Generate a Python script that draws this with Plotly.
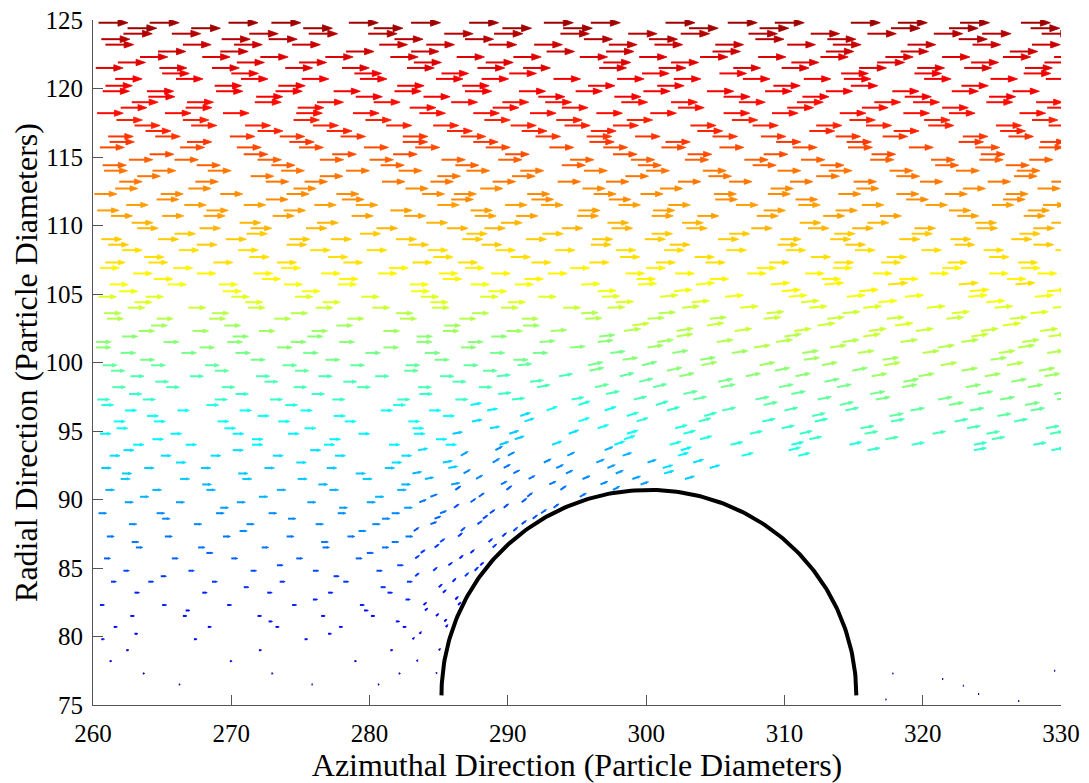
import numpy as np
import plotly.graph_objects as go

# ---------------- data ----------------
# particle rows (layer A): radial position, normalised speed, azimuthal positions
row_y = [124.8, 124.0, 123.2, 122.3, 121.5, 120.7, 119.8, 119.0, 118.2, 117.3,
         116.5, 115.7, 114.8, 114.0, 113.2, 112.3, 111.5, 110.7, 109.8, 109.0,
         108.2, 107.3, 106.5, 105.7, 104.8, 104.0, 103.2, 102.3, 101.5, 100.7,
         99.8, 99.0, 98.2, 97.3, 96.5, 95.7, 94.8, 94.0, 93.2, 92.3,
         91.5, 90.7, 89.8, 89.0, 88.2, 87.3, 86.5, 85.7, 84.8, 84.0,
         83.2, 82.3, 81.5, 80.7, 79.8, 79.0, 78.2, 77.3, 76.5]

row_speed = [0.97, 0.95, 0.93, 0.915, 0.90, 0.89, 0.88, 0.87, 0.86, 0.845,
             0.825, 0.805, 0.785, 0.77, 0.755, 0.74, 0.725, 0.71, 0.695, 0.68,
             0.665, 0.65, 0.635, 0.62, 0.595, 0.575, 0.55, 0.53, 0.51, 0.495,
             0.475, 0.455, 0.44, 0.42, 0.395, 0.38, 0.37, 0.36, 0.345, 0.33,
             0.315, 0.30, 0.285, 0.27, 0.26, 0.245, 0.23, 0.215, 0.195, 0.18,
             0.165, 0.15, 0.135, 0.12, 0.105, 0.09, 0.075, 0.06, 0.05]

row_x = [
    "260.4 264.1 269.8 272.9 278.5 283.0 287.2 292.6 296.0 301.4 305.9 309.3 314.8 318.2 322.7 327.1",
    "262.2 265.7 271.3 275.6 279.9 285.4 289.0 293.8 298.7 302.5 307.4 311.9 316.0 320.8 324.3 328.6",
    "260.9 266.5 270.2 274.4 280.7 284.1 288.6 291.9 297.3 300.6 305.0 310.2 313.5 318.9 323.6 327.9",
    "263.4 267.9 272.1 276.8 281.5 286.3 290.4 295.2 299.5 303.9 308.1 312.6 317.3 321.4 325.8 329.5",
    "260.2 264.8 268.6 273.9 278.0 282.7 287.8 291.1 296.6 300.9 306.3 309.8 315.4 319.6 323.0 327.4",
    "261.6 266.0 270.7 275.1 279.3 284.8 288.1 293.3 297.9 302.0 307.0 311.4 314.3 320.1 324.9 328.9",
    "260.7 263.9 268.9 273.2 277.4 281.8 286.9 290.8 294.9 299.8 304.4 308.6 313.0 317.8 322.1 326.5",
    "262.8 266.8 271.7 276.2 280.3 285.9 289.6 292.7 298.2 301.8 306.7 310.9 316.5 319.3 324.6 328.2",
    "260.3 265.2 269.4 274.7 278.8 283.6 287.5 291.6 296.4 300.3 305.6 309.1 314.0 318.6 321.9 327.0",
    "263.0 267.1 271.0 275.9 281.2 284.6 290.2 294.1 297.6 303.2 307.7 312.3 315.9 320.4 325.3 329.1",
    "261.1 264.5 269.9 273.5 277.9 282.4 286.6 292.0 295.7 299.2 304.8 308.3 313.7 317.1 322.9 326.2",
    "260.5 266.3 270.4 274.9 279.6 283.3 288.4 293.0 296.9 301.1 305.3 310.6 314.6 319.0 323.8 328.4",
    "262.6 265.9 271.9 276.4 280.0 285.2 289.3 294.5 298.9 302.8 307.1 311.2 316.2 320.6 324.1 327.7",
    "260.8 264.3 268.3 273.6 278.3 282.1 287.0 290.9 295.5 300.0 304.1 309.5 313.2 317.6 322.4 326.8",
    "261.9 267.4 272.5 275.3 280.9 284.4 288.9 293.6 297.1 302.3 306.0 310.4 315.0 319.8 324.7 329.3",
    "260.1 264.9 269.2 274.0 277.6 283.8 286.1 291.4 296.2 299.6 304.9 308.8 313.9 318.1 321.6 326.0",
    "262.4 266.6 270.9 276.0 279.0 284.9 289.8 292.4 298.0 301.6 306.5 311.0 315.6 320.2 325.0 328.7",
    "261.3 265.0 268.0 273.0 278.7 282.5 287.6 290.6 295.0 300.4 303.7 308.0 312.8 316.9 322.5 327.3",
    "263.2 267.7 271.4 275.4 280.5 285.6 288.3 293.9 297.5 302.9 307.6 311.7 314.9 319.4 323.9 328.0",
    "260.6 264.7 269.6 274.2 277.2 281.9 286.7 291.3 296.1 299.9 305.2 309.7 313.3 318.3 322.0 326.4",
    "262.1 266.2 270.5 275.7 279.8 284.2 289.1 293.4 297.8 301.3 305.8 310.1 315.1 319.9 324.4 329.6",
    "260.9 264.0 268.7 273.3 278.1 283.1 286.4 291.7 295.9 300.7 304.3 308.9 313.6 317.0 321.8 326.9",
    "262.9 267.5 271.6 276.5 280.6 285.0 288.8 292.9 298.5 302.1 307.3 311.5 316.4 320.5 324.8 328.3",
    "261.2 265.4 269.1 273.8 277.7 282.9 287.3 290.5 295.3 299.4 303.6 309.0 312.9 317.5 322.6 326.7",
    "260.4 263.8 270.0 274.6 279.4 283.7 288.0 292.2 296.8 301.0 305.7 310.3 314.5 318.7 323.3 328.1",
    "262.5 266.9 271.2 276.1 280.2 284.5 289.5 294.0 297.2 302.6 306.8 311.8 315.7 320.3 325.2 329.4",
    "261.0 264.6 268.4 273.1 278.4 282.2 286.5 291.0 295.6 300.1 304.6 308.5 313.1 317.4 321.7 326.3",
    "263.3 267.2 272.0 275.8 281.0 285.3 289.9 293.1 298.4 302.2 306.4 310.7 316.1 319.5 324.2 328.5",
    "260.2 265.1 269.7 274.3 277.8 283.4 287.1 292.3 296.5 300.8 305.1 309.4 314.2 318.4 322.8 327.2",
    "262.0 266.4 270.3 275.2 279.7 284.0 288.7 291.8 297.4 301.9 306.2 311.3 315.3 320.0 325.5 329.0",
    "260.7 264.2 268.1 273.7 278.6 282.6 286.8 290.7 295.8 299.7 304.0 308.2 312.7 317.2 321.3 326.1",
    "262.7 267.0 271.8 276.3 280.4 285.1 289.2 293.7 298.1 302.4 307.2 310.8 316.3 319.7 324.5 328.8",
    "261.4 265.3 269.3 274.5 279.1 283.5 287.9 292.1 296.3 300.5 305.4 309.6 313.8 318.5 323.1 327.6",
    "260.3 263.6 268.8 272.8 277.3 282.0 286.2 290.3 294.6 299.1 303.4 307.9 312.4 316.6 321.1 325.6 329.7",
    "262.3 266.1 270.6 275.0 280.8 284.3 288.5 292.8 297.0 301.5 305.5 310.0 314.4 319.1 323.4 327.8",
    "261.5 264.4 269.0 273.4 278.2 282.8 287.4 291.2 295.1 299.3 303.8 308.4 312.2 317.7 322.3 326.6",
    "260.5 265.6 270.1 274.1 279.2 283.2 286.0 290.1 294.4 298.6 302.7 307.5 311.1 315.8 320.7 324.6 329.2",
    "262.9 266.7 271.5 276.7 281.4 285.5 289.4 293.2 297.7 301.7 306.1 310.5 314.7 319.2 323.7 328.0",
    "261.2 264.9 268.5 273.0 277.5 282.3 286.6 290.0 294.3 298.3 302.3 306.9 311.0",
    "260.6 263.7 267.8 272.4 276.9 281.1 285.7 289.7 293.5 297.2 301.2 304.6",
    "262.0 266.3 270.8 274.8 279.5 284.0 287.7 291.5 295.4 299.0 302.8",
    "260.9 264.3 268.2 273.3 277.1 282.0 286.2 289.9 293.8 297.6",
    "262.3 266.0 270.4 275.5 279.8 283.6 287.3 291.0 294.6",
    "260.4 264.6 268.9 272.7 277.7 281.6 285.1 288.7 292.4",
    "262.6 267.3 271.1 276.1 280.2 284.4 287.8 291.0",
    "261.0 265.2 269.4 274.0 278.4 282.6 286.4 289.6",
    "263.1 267.6 272.2 276.6 280.9 284.7 288.9",
    "260.8 265.7 270.0 274.7 279.0 283.3 286.5",
    "262.2 266.9 271.4 275.9 280.5 284.6 287.6",
    "261.3 264.0 268.6 273.5 278.1 282.7 286.0",
    "263.0 267.9 272.6 277.0 281.3 285.3 287.2",
    "260.5 265.0 269.7 274.4 279.3 283.9 286.4",
    "262.7 266.5 271.9 276.5 280.1 284.8",
    "261.5 268.3 273.2 277.8 282.4 285.5",
    "260.6 267.3 275.3 283.1",
    "262.4 272.0 281.5 285.0",
    "261.2 269.9 278.9 283.4",
    "263.6 272.9 282.1 284.8",
    "266.2 275.8 280.6",
]

# particle rows (layer B, lying between the layer-A rows)
row2_y = [124.4, 123.6, 122.7, 121.9, 121.1, 120.2, 119.4, 118.6, 117.7, 116.9,
          116.1, 115.2, 114.4, 113.6, 112.7, 111.9, 111.1, 110.2, 109.4, 108.6,
          107.7, 106.9, 106.1, 105.2, 104.4, 103.6, 102.7, 101.9, 101.1, 100.2,
          99.4, 98.6, 97.7, 96.9, 96.1, 95.2, 94.4, 93.6, 92.7, 91.9,
          91.1, 90.2, 89.4, 88.6, 87.7, 86.9, 86.1, 85.2, 84.4, 83.6,
          82.7, 81.9, 81.1, 80.2]

row2_speed = [0.96, 0.94, 0.92, 0.907, 0.895, 0.885, 0.875, 0.865, 0.853, 0.835,
              0.815, 0.795, 0.777, 0.762, 0.747, 0.732, 0.717, 0.702, 0.687, 0.672,
              0.657, 0.642, 0.627, 0.607, 0.585, 0.562, 0.54, 0.52, 0.502, 0.485,
              0.465, 0.447, 0.43, 0.407, 0.387, 0.375, 0.365, 0.352, 0.337, 0.322,
              0.307, 0.292, 0.277, 0.265, 0.252, 0.237, 0.222, 0.205, 0.187, 0.172,
              0.157, 0.142, 0.127, 0.112]

row2_x = [
    "262.5 267.1 275.2 280.3 289.6 294.0 303.1 308.2 317.7 321.9 327.8",
    "260.6 269.3 272.7 281.8 286.9 295.5 300.2 307.9 313.1 322.6",
    "264.7 269.2 278.3 283.0 292.8 297.1 304.8 313.0 318.4 326.3",
    "261.8 270.4 274.9 283.2 288.4 296.9 301.8 310.5 316.7 323.5 328.8",
    "265.0 270.0 278.9 285.2 290.1 299.7 305.3 314.1 319.4 327.3",
    "260.9 268.8 273.4 282.0 286.7 295.8 300.8 309.2 314.8 322.8",
    "264.0 271.8 279.0 283.9 292.2 297.7 305.6 311.3 318.7 324.8",
    "262.0 266.7 274.8 282.9 288.9 293.9 302.3 310.2 315.6 321.4 329.0",
    "261.7 266.5 274.5 279.7 288.3 293.5 298.6 306.2 314.7 320.1 327.9",
    "263.8 271.9 276.9 285.6 291.0 296.0 303.7 311.8 317.9 325.6",
    "261.2 266.8 274.2 282.4 287.5 295.9 301.4 309.4 314.5 322.6 328.5",
    "264.1 270.9 277.3 281.7 289.8 297.6 303.0 308.5 316.3 324.2",
    "260.7 267.5 272.9 280.8 286.2 293.9 299.4 307.7 312.6 320.9 326.0",
    "263.2 271.4 276.4 284.9 290.3 298.5 304.5 312.3 318.1 326.6",
    "261.6 266.9 274.5 282.6 288.0 295.4 301.0 309.0 315.2 322.9 328.3",
    "264.6 272.5 278.0 285.9 291.7 297.3 305.0 310.8 318.8 325.8",
    "260.3 268.2 273.8 281.5 287.3 295.1 300.5 308.5 313.7 321.9 327.6",
    "262.8 270.6 276.2 284.1 289.5 297.2 302.6 311.1 316.0 323.8 329.3",
    "265.9 271.1 279.3 287.0 292.5 300.4 306.0 313.6 319.2 327.0",
    "261.1 267.5 274.0 282.8 288.1 296.0 301.7 309.5 314.4 322.3 328.0",
    "263.7 271.3 277.0 284.6 290.2 298.1 303.5 311.9 317.4 324.8",
    "260.5 265.8 273.6 281.4 286.9 294.5 300.0 308.0 313.5 321.4 327.1",
    "264.4 272.2 277.8 285.3 291.2 299.3 304.6 312.7 318.3 326.1",
    "261.9 269.4 275.1 283.0 288.6 296.5 302.0 309.8 315.4 323.4 329.0",
    "263.0 271.0 276.6 284.4 290.0 297.8 303.3 311.2 316.8 324.6",
    "260.8 268.6 274.3 281.9 287.4 295.3 300.9 308.7 314.2 322.1 327.8",
    "264.2 269.5 277.6 285.4 291.1 299.0 304.4 312.4 318.0 325.8",
    "262.1 270.1 275.5 283.4 288.8 296.6 302.2 310.0 315.7 323.5 329.1",
    "260.2 267.7 273.3 281.0 286.6 294.5 300.1 307.8 313.3 321.1 326.9",
    "263.4 271.4 276.8 284.7 290.4 298.3 303.9 311.4 317.1 324.9",
    "261.3 268.8 274.6 282.5 288.2 295.9 301.5 309.3 314.9 322.8 328.4",
    "264.5 272.4 278.1 286.0 291.6 299.5 305.2 312.9 318.6 326.4",
    "262.6 270.3 275.8 283.6 289.3 297.1 302.7 310.5 316.2 324.0 329.5",
    "260.6 268.2 273.9 281.7 287.3 295.1 300.7 308.5 314.0 321.9 327.4",
    "263.9 271.9 277.4 285.3 290.9 298.6 304.2 312.0 317.6 325.4",
    "261.7 269.5 275.3 283.1 288.7 296.5 302.1 309.8 315.5 323.2 328.9",
    "264.3 271.5 277.1 284.8 290.5 298.4 303.9 311.8 317.3 325.0",
    "262.2 270.1 275.7 283.5 289.1 297.0 302.5 310.3 316.0 323.7 329.3",
    "266.0 274.7 281.6 285.3 288.9 292.6 296.4 300.1 303.4",
    "262.1 270.5 279.0 283.1 286.8 290.4 294.2 297.8 301.3",
    "267.9 276.3 282.3 285.9 289.5 293.0 296.7 299.6",
    "263.4 272.0 280.4 284.4 287.9 291.4 295.2",
    "269.2 277.8 282.5 286.1 289.7 293.3",
    "265.0 274.1 280.9 284.7 288.2 291.8",
    "270.6 279.2 283.2 286.6 290.4",
    "262.8 276.5 281.6 285.1 288.6",
    "268.2 279.8 283.7 287.3",
    "273.3 282.0 285.7 288.0",
    "264.9 277.4 283.3 286.9",
    "270.9 280.8 285.0",
    "275.9 282.6 286.2",
    "266.7 279.6 284.0",
    "272.7 281.9 285.4",
    "263.0 277.0 283.6",
]

# isolated slow particles downstream of the obstacle
wake_x = [317.8, 317.3, 321.4, 322.9, 324.0, 326.9, 329.5]
wake_y = [77.3, 75.4, 76.9, 76.4, 75.8, 75.3, 77.5]
wake_speed = 0.04

# flow direction (degrees above horizontal) and speed factor, read per zone
tilt_x_edges = [260, 283, 286, 289, 292, 295, 298, 301, 305, 315, 331]
tilt_y_edges = [75, 85, 88, 91, 94, 97, 100, 103, 106, 126]
tilt_deg = [
    [0, 40, 45, 45, 45, 0, 0, 0, 0, 0],
    [0, 35, 40, 42, 40, 0, 0, 0, 0, 0],
    [0, 20, 35, 38, 35, 28, 20, 0, 0, 0],
    [0, 10, 30, 28, 25, 22, 18, 16, 13, 10],
    [0, 0, 10, 18, 20, 18, 17, 15, 12, 10],
    [0, 0, 0, 6, 10, 12, 13, 12, 11, 10],
    [0, 0, 0, 0, 4, 6, 8, 9, 8, 8],
    [0, 0, 0, 0, 0, 2, 3, 5, 5, 5],
    [0, 0, 0, 0, 0, 0, 0, 0, 0, 0],
]
speed_factor = [
    [1, 0.9, 0.9, 0.9, 1, 1, 1, 1, 1, 1],
    [1, 0.8, 0.75, 0.75, 0.8, 1, 1, 1, 1, 1],
    [1, 0.85, 0.75, 0.75, 0.8, 0.85, 0.9, 1, 1, 1],
    [1, 0.95, 0.8, 0.75, 0.8, 0.85, 0.9, 1.05, 1.15, 1.2],
    [1, 1, 0.9, 0.9, 0.95, 1, 1.05, 1.1, 1.15, 1.2],
    [1, 1, 1, 1, 1, 1.05, 1.05, 1.1, 1.1, 1.15],
    [1, 1, 1, 1, 1, 1, 1.05, 1.05, 1.08, 1.1],
    [1, 1, 1, 1, 1, 1, 1, 1, 1.03, 1.05],
    [1, 1, 1, 1, 1, 1, 1, 1, 1, 1],
]

cyl_center = (300.2, 75.7)
cyl_radius = 15.0
max_arrow_len = 2.2   # arrow length (data units) at full speed

x_ticks = [260, 270, 280, 290, 300, 310, 320, 330]
y_ticks = [75, 80, 85, 90, 95, 100, 105, 110, 115, 120, 125]
x_title = "Azimuthal Direction (Particle Diameters)"
y_title = "Radial Direction (Particle Diameters)"

# ---------------- build arrows ----------------
px, py, pt, pa = [], [], [], []


def add_rows(ys, speeds, xlists):
    for y, s, xs in zip(ys, speeds, xlists):
        for x in map(float, xs.split()):
            if np.hypot(x - cyl_center[0], y - cyl_center[1]) < cyl_radius + 0.2:
                continue
            xi = min(max(np.searchsorted(tilt_x_edges, x, side="right") - 1, 0), len(tilt_x_edges) - 2)
            yi = min(max(np.searchsorted(tilt_y_edges, y, side="right") - 1, 0), len(tilt_y_edges) - 2)
            px.append(x); py.append(y)
            pt.append(min(s * speed_factor[yi][xi], 1.0))
            pa.append(np.radians(tilt_deg[yi][xi]))


add_rows(row_y, row_speed, row_x)
add_rows(row2_y, row2_speed, row2_x)
for x, y in zip(wake_x, wake_y):
    px.append(x); py.append(y); pt.append(wake_speed); pa.append(0.0)

px, py, pt, pa = map(np.array, (px, py, pt, pa))


def jet(t):
    r = np.clip(min(4 * t - 1.5, -4 * t + 4.5), 0, 1)
    g = np.clip(min(4 * t - 0.5, -4 * t + 3.5), 0, 1)
    b = np.clip(min(4 * t + 0.5, -4 * t + 2.5), 0, 1)
    return "rgb(%d,%d,%d)" % (round(r * 255), round(g * 255), round(b * 255))


nbins = 48
bins = np.clip((pt * nbins).astype(int), 0, nbins - 1)

fig = go.Figure()
for b in range(nbins):
    idx = np.where(bins == b)[0]
    if len(idx) == 0:
        continue
    col = jet((b + 0.5) / nbins)
    sx, sy, hx, hy = [], [], [], []
    for i in idx:
        L = max(pt[i] * max_arrow_len, 0.09)
        dx, dy = np.cos(pa[i]), np.sin(pa[i])
        tipx, tipy = px[i] + L * dx, py[i] + L * dy
        h, w = 0.34 * L, 0.12 * L
        bx, by = tipx - h * dx, tipy - h * dy
        sx += [px[i], bx + 0.2 * h * dx, None]
        sy += [py[i], by + 0.2 * h * dy, None]
        hx += [tipx, bx - w * dy, bx + w * dy, tipx, None]
        hy += [tipy, by + w * dx, by - w * dx, tipy, None]
    fig.add_trace(go.Scatter(x=sx, y=sy, mode="lines", line=dict(color=col, width=2.0),
                             hoverinfo="skip", showlegend=False))
    fig.add_trace(go.Scatter(x=hx, y=hy, mode="lines", fill="toself", fillcolor=col,
                             line=dict(color=col, width=0.8), hoverinfo="skip", showlegend=False))

# obstacle outline (upper half of the disc)
th = np.linspace(0, np.pi, 200)
fig.add_trace(go.Scatter(x=cyl_center[0] + cyl_radius * np.cos(th),
                         y=cyl_center[1] + cyl_radius * np.sin(th),
                         mode="lines", line=dict(color="black", width=4),
                         hoverinfo="skip", showlegend=False))

font_family = "Liberation Serif"
# the page body adds an 8 px margin, so the figure is 8 px smaller than the window
fig.update_layout(
    width=1081, height=775,
    margin=dict(l=85, r=28, t=12, b=78),
    paper_bgcolor="white", plot_bgcolor="white",
    font=dict(family=font_family, size=25, color="black"),
    xaxis=dict(range=[260, 330], tickvals=x_ticks, ticks="inside", ticklen=10,
               tickcolor="#555", tickwidth=1.2, showline=True, linecolor="#555", linewidth=1.2,
               showgrid=False, zeroline=False, automargin=False, ticklabelstandoff=6,
               ticklabeloverflow="allow",
               title=dict(text=x_title, font=dict(size=32), standoff=1)),
    yaxis=dict(range=[75, 125], tickvals=y_ticks, ticks="inside", ticklen=10,
               tickcolor="#555", tickwidth=1.2, showline=True, linecolor="#555", linewidth=1.2,
               showgrid=False, zeroline=False, automargin=False, ticklabelstandoff=4,
               ticklabeloverflow="allow",
               title=dict(text=y_title, font=dict(size=32), standoff=2)),
)

fig.write_html("out.html")
